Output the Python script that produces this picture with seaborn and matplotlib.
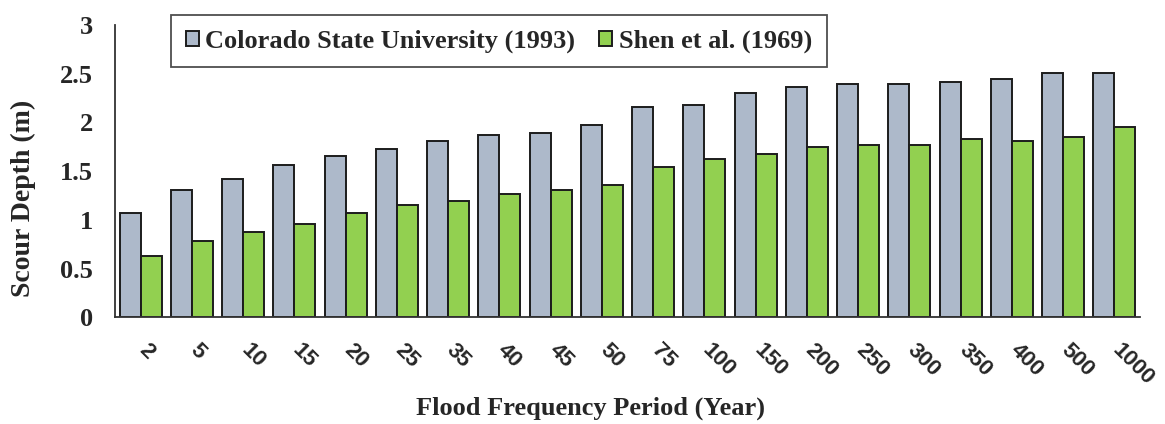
import numpy as np
import pandas as pd
import matplotlib
matplotlib.use("Agg")
import matplotlib.pyplot as plt
import matplotlib.transforms as mtransforms
import seaborn as sns
from matplotlib.ticker import FixedLocator

# ---- data ----
periods = ["2", "5", "10", "15", "20", "25", "35", "40", "45", "50",
           "75", "100", "150", "200", "250", "300", "350", "400", "500", "1000"]
csu_depth = [1.07, 1.31, 1.42, 1.56, 1.66, 1.73, 1.81, 1.87, 1.89, 1.97,
             2.16, 2.18, 2.30, 2.36, 2.39, 2.39, 2.41, 2.45, 2.51, 2.51]
shen_depth = [0.63, 0.78, 0.88, 0.96, 1.07, 1.15, 1.19, 1.27, 1.31, 1.36,
              1.54, 1.62, 1.68, 1.75, 1.77, 1.77, 1.83, 1.81, 1.85, 1.95]
series_names = ["Colorado State University (1993)", "Shen et al. (1969)"]
y_ticks = [0, 0.5, 1, 1.5, 2, 2.5, 3]
y_tick_labels = ["0", "0.5", "1", "1.5", "2", "2.5", "3"]
x_title = "Flood Frequency Period (Year)"
y_title = "Scour Depth (m)"

df = pd.DataFrame({
    "Period": periods * 2,
    "Depth": csu_depth + shen_depth,
    "Method": [series_names[0]] * len(periods) + [series_names[1]] * len(periods),
})

sns.set_style("white")
plt.rcParams["font.family"] = ["Liberation Serif", "DejaVu Serif"]

W, H = 1165, 424
fig = plt.figure(figsize=(W / 100, H / 100), dpi=100)
ax = fig.add_axes([115 / W, 1 - 317.3 / H, 1025 / W, 292.3 / H])

sns.barplot(data=df, x="Period", y="Depth", hue="Method", order=periods,
            hue_order=series_names, palette=["#ADB9CA", "#92D050"],
            width=0.82, edgecolor="#1c1c1c", linewidth=1.4, saturation=1,
            errorbar=None, ax=ax)

ax.set_xlim(-0.5, len(periods) - 0.5)
ax.set_ylim(0, 3)

for s in ["top", "right"]:
    ax.spines[s].set_visible(False)
for s in ["left", "bottom"]:
    ax.spines[s].set_color("#333333")
    ax.spines[s].set_linewidth(1.3)

ax.set_yticks(y_ticks)
ax.set_yticklabels(y_tick_labels, fontsize=19, fontweight="bold")
ax.tick_params(axis="y", direction="in", length=7.5, width=1.2, pad=16,
               color="#333333")

ax.set_xticks(range(len(periods)))
ax.set_xticklabels(periods, rotation=-45, ha="left", va="top",
                   fontfamily="Liberation Sans", fontweight="bold", fontsize=16)
ax.tick_params(axis="x", which="major", length=0, pad=16)
shift = mtransforms.ScaledTranslation(-6 / 100, 0, fig.dpi_scale_trans)
for lbl in ax.get_xticklabels():
    lbl.set_transform(lbl.get_transform() + shift)
ax.xaxis.set_minor_locator(FixedLocator(np.arange(-0.5, len(periods), 1.0)))
ax.tick_params(axis="x", which="minor", direction="in", length=7, width=1.2,
               color="#333333")

ax.set_xlabel(x_title, fontsize=19, fontweight="bold", va="center")
ax.xaxis.set_label_coords((590 - 115) / 1025, -(408 - 317.3) / 292.3)
ax.set_ylabel(y_title, fontsize=20, fontweight="bold", va="center", ha="center")
ax.yaxis.set_label_coords((23 - 115) / 1025, (317.3 - 198) / 292.3)

handles, labels = ax.get_legend_handles_labels()
leg = ax.legend(handles, labels, loc="upper left",
                bbox_to_anchor=(171 / W, 1 - 15 / H), bbox_transform=fig.transFigure,
                ncol=2, frameon=True, fancybox=False, edgecolor="#222222",
                prop={"family": "Liberation Serif", "weight": "bold", "size": 19},
                handlelength=0.5, handleheight=0.5, handletextpad=0.25,
                columnspacing=0.9, borderaxespad=0, borderpad=0.55)
leg.get_frame().set_linewidth(1.3)

fig.savefig("out.png", dpi=100)
